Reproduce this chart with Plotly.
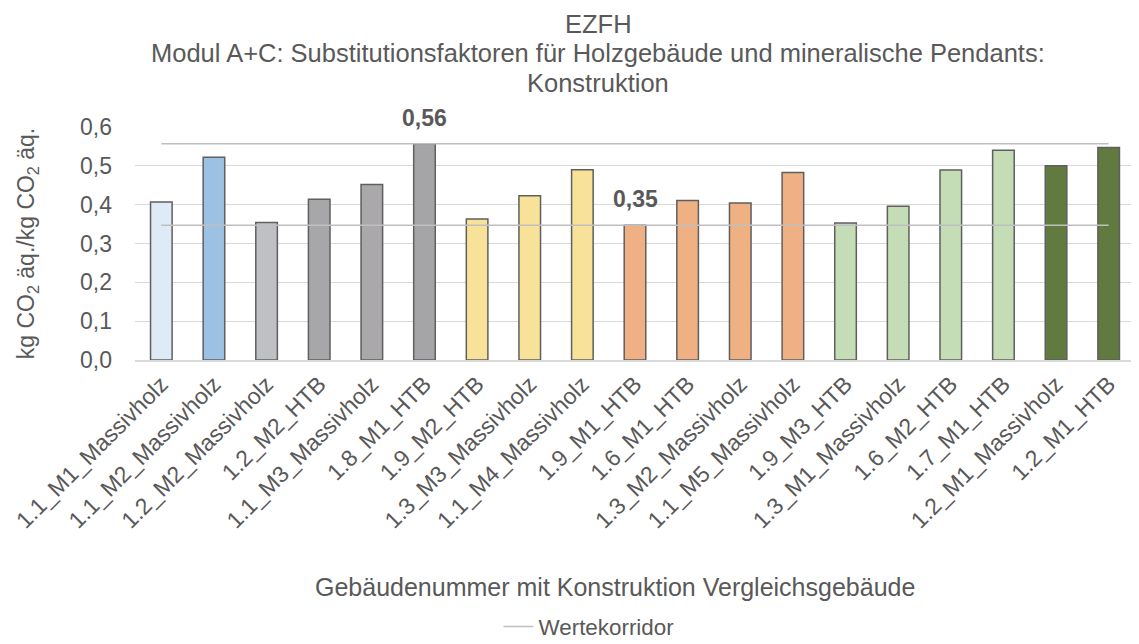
import plotly.graph_objects as go

categories = [
    "1.1_M1_Massivholz", "1.1_M2_Massivholz", "1.2_M2_Massivholz", "1.2_M2_HTB",
    "1.1_M3_Massivholz", "1.8_M1_HTB", "1.9_M2_HTB", "1.3_M3_Massivholz",
    "1.1_M4_Massivholz", "1.9_M1_HTB", "1.6_M1_HTB", "1.3_M2_Massivholz",
    "1.1_M5_Massivholz", "1.9_M3_HTB", "1.3_M1_Massivholz", "1.6_M2_HTB",
    "1.7_M1_HTB", "1.2_M1_Massivholz", "1.2_M1_HTB",
]
values = [
    0.407, 0.522, 0.354, 0.414, 0.452, 0.557, 0.363, 0.423, 0.490, 0.347,
    0.411, 0.404, 0.483, 0.353, 0.396, 0.489, 0.540, 0.500, 0.547,
]
bar_colors = [
    "#DEEAF6", "#9DC1E3", "#BFC0C3", "#A7A7AA", "#AAA8AB", "#A5A5A8",
    "#F8E299", "#F8E299", "#F8E299",
    "#EFB084", "#EFB084", "#EFB084", "#EFB084",
    "#C5DDB6", "#C5DDB6", "#C5DDB6", "#C5DDB6",
    "#617A3F", "#617A3F",
]
title_lines = [
    "EZFH",
    "Modul A+C: Substitutionsfaktoren für Holzgebäude und mineralische Pendants:",
    "Konstruktion",
]
corridor_max = max(values)
corridor_min = min(values)

TXT = "#595959"
FONT = "Liberation Sans, Arial, sans-serif"

fig = go.Figure()
fig.add_trace(go.Bar(
    x=categories, y=values, marker=dict(color=bar_colors, line=dict(color="#5F5F5F", width=1.5)),
    showlegend=False, hoverinfo="x+y",
))
fig.add_trace(go.Scatter(
    x=categories, y=[corridor_max] * len(categories), mode="lines",
    line=dict(color="#BFBFBF", width=1.5), name="Wertekorridor", showlegend=True,
))
fig.add_trace(go.Scatter(
    x=categories, y=[corridor_min] * len(categories), mode="lines",
    line=dict(color="#BFBFBF", width=1.5), name="Wertekorridor", showlegend=False,
))

def fmt(v):
    return f"{v:.2f}".replace(".", ",")

for v in (corridor_max, corridor_min):
    idx = values.index(v)
    fig.add_annotation(x=categories[idx], y=v, text=f"<b>{fmt(v)}</b>", showarrow=False,
                       yanchor="bottom", yshift=11, font=dict(size=23, color=TXT, family=FONT))

# chart title (three centred lines)
for line, ypos in zip(title_lines, (1.44, 1.318, 1.187)):
    fig.add_annotation(x=0.463, y=ypos, xref="paper", yref="paper", xanchor="center", yanchor="middle",
                       text=line, showarrow=False, font=dict(size=25.5, color=TXT, family=FONT))

# x-axis title
fig.add_annotation(x=0.48, y=-0.974, xref="paper", yref="paper",
                   text="Gebäudenummer mit Konstruktion Vergleichsgebäude", showarrow=False,
                   font=dict(size=25, color=TXT, family=FONT), yanchor="middle")

fig.update_layout(
    width=1131, height=636,
    paper_bgcolor="white", plot_bgcolor="white",
    separators=",.",
    font=dict(family=FONT, color=TXT, size=22),
    margin=dict(l=127, r=4, t=119, b=284),
    bargap=0.59,
    legend=dict(orientation="h", x=0.454, xanchor="center", y=0.0267, yanchor="middle", yref="container",
                font=dict(size=22.4, color=TXT, family=FONT)),
    xaxis=dict(tickangle=-45, tickfont=dict(size=23, color=TXT), showgrid=False, automargin=False,
               showline=True, linecolor="#D9D9D9", linewidth=1.5, ticks=""),
    yaxis=dict(range=[0, 0.6], dtick=0.1, tickformat=".1f", showgrid=True, gridcolor="#D9D9D9",
               gridwidth=1, zeroline=False, tickfont=dict(size=23, color=TXT), automargin=False,
               ticklabelstandoff=22,
               title=dict(text="kg CO<sub>2</sub> äq./kg CO<sub>2</sub> äq.",
                          font=dict(size=23, color=TXT), standoff=38)),
)

fig.write_html("out.html")
